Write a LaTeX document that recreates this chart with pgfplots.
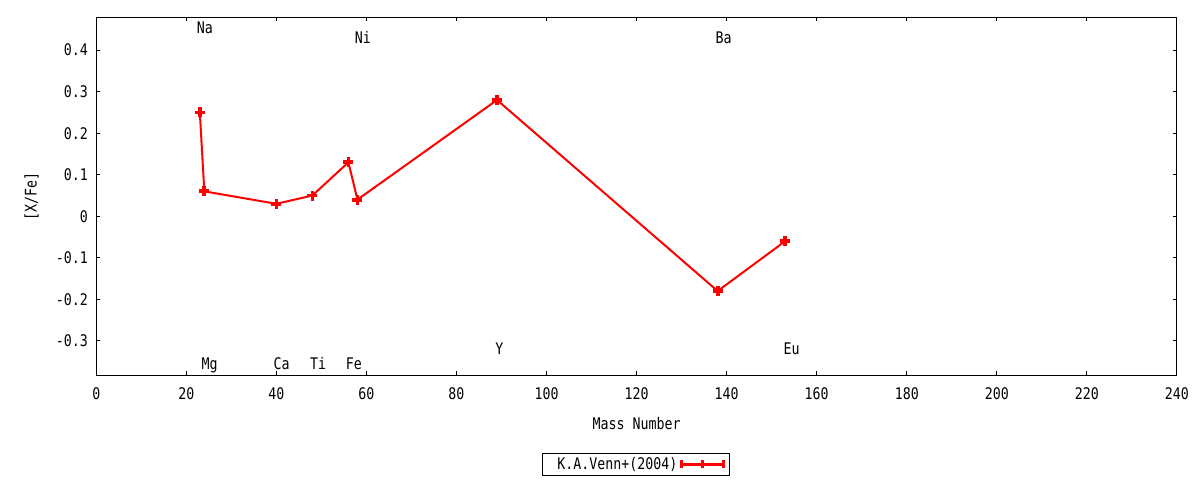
\documentclass[border=0pt]{standalone}
\usepackage{fontspec}
\setmainfont[FakeStretch=0.83]{DejaVu Sans Mono}
\usepackage{pgfplots}
\pgfplotsset{compat=1.18}
\begin{document}
\begin{tikzpicture}[font=\fontsize{12}{14}\selectfont]
\useasboundingbox (-72.2pt,-78.5pt) rectangle (827.8pt,281.5pt);
\begin{axis}[
  scale only axis,
  width=810.5pt, height=268.5pt,
  xmin=0, xmax=240, ymin=-0.383, ymax=0.479,
  xtick={0,20,40,60,80,100,120,140,160,180,200,220,240},
  ytick={-0.3,-0.2,-0.1,0,0.1,0.2,0.3,0.4},
  /pgf/number format/assume math mode=true,
  tick align=inside, major tick length=3pt,
  axis line style={line width=0.75pt},
  every tick/.style={black, line width=0.75pt},
  xticklabel style={yshift=-5.5pt},
  yticklabel style={xshift=-2.7pt},
  xlabel={Mass Number}, ylabel={[X/Fe]},
  xlabel style={at={(axis description cs:0.5,-0.136)}, anchor=center},
  ylabel style={at={(axis description cs:-0.0598,0.5)}, anchor=center},
  legend plot pos=right,
  legend style={at={(axis description cs:0.4994,-0.249)}, anchor=center,
    draw=black, line width=0.75pt, inner xsep=3.2pt, inner ysep=1.2pt,
    font=\fontsize{12}{14}\selectfont},
  legend cell align=left,
]
\addplot[red, line width=1.5pt, mark=+, mark size=3.75pt,
  mark options={line width=2.8pt, solid},
  legend image code/.code={
    \draw[red, line width=2.4pt] (0pt,0pt) -- (31.5pt,0pt);
    \draw[red, line width=2.4pt] (0pt,-3pt) -- (0pt,3pt);
    \draw[red, line width=2.4pt] (31.5pt,-3pt) -- (31.5pt,3pt);
    \draw[red, line width=2.4pt] (15.75pt,-3pt) -- (15.75pt,3pt);
  }]
coordinates {
  (23,0.25) (24,0.06) (40,0.03) (48,0.05) (56,0.13) (58,0.04)
  (89,0.28) (138,-0.18) (153,-0.06)
};
\addlegendentry{\hspace{6pt}K.A.Venn+(2004)\hspace{3.7pt}}
\begin{scope}[every node/.style={anchor=base west, inner sep=0pt}]
\node at (axis cs:22.3,0.440) {Na};
\node at (axis cs:57.4,0.416) {Ni};
\node at (axis cs:137.5,0.416) {Ba};
\node at (axis cs:23.35,-0.368) {Mg};
\node at (axis cs:39.35,-0.368) {Ca};
\node at (axis cs:47.45,-0.368) {Ti};
\node at (axis cs:55.4,-0.368) {Fe};
\node at (axis cs:88.6,-0.334) {Y};
\node at (axis cs:152.6,-0.334) {Eu};
\end{scope}
\end{axis}
\end{tikzpicture}
\end{document}
